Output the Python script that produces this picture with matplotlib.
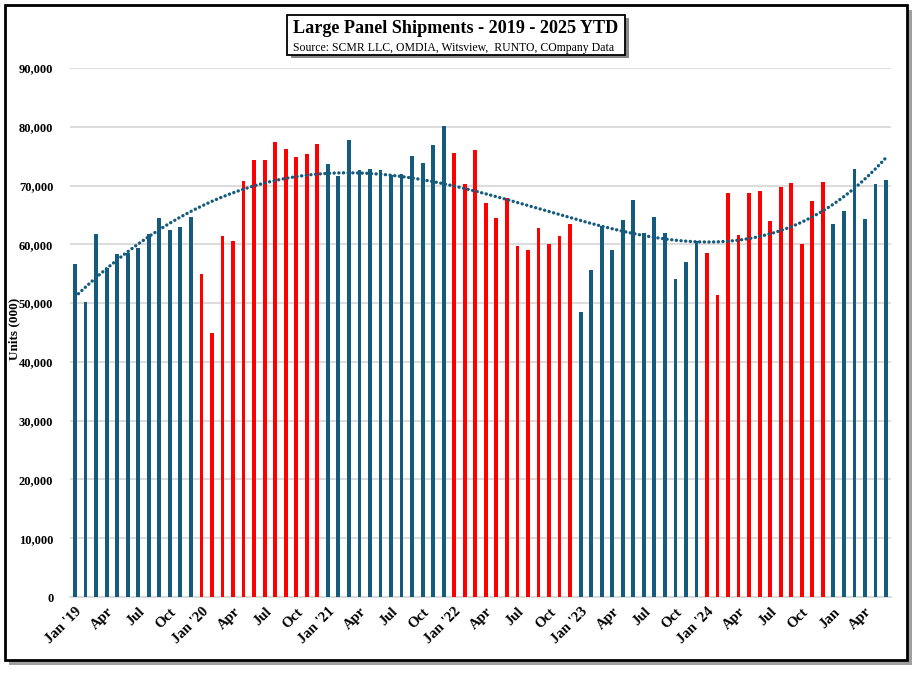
import numpy as np
import matplotlib
matplotlib.use("Agg")
import matplotlib.pyplot as plt
from matplotlib.patches import Rectangle

# monthly shipments, units (000), Jan 2019 - Jun 2025
y2019 = [56600, 50200, 61800, 56000, 58400, 58500, 59400, 61800, 64400, 62500, 62900, 64700]
y2020 = [54900, 45000, 61400, 60600, 70700, 74400, 74300, 77400, 76300, 74900, 75300, 77000]
y2021 = [73600, 71600, 77800, 72700, 72900, 72700, 71800, 71900, 75100, 73900, 76900, 80100]
y2022 = [75500, 70200, 76000, 67100, 64500, 67900, 59700, 59100, 62700, 60000, 61400, 63500]
y2023 = [48500, 55700, 63200, 59000, 64100, 67600, 61900, 64700, 61900, 54100, 57000, 60600]
y2024 = [58600, 51300, 68800, 61600, 68700, 69100, 63900, 69800, 70400, 60000, 67400, 70600]
y2025 = [63500, 65700, 72800, 64300, 70200, 71000]

red_years = {2020, 2022, 2024}
tick_labels = ["Jan '19", "Apr", "Jul", "Oct", "Jan '20", "Apr", "Jul", "Oct",
               "Jan '21", "Apr", "Jul", "Oct", "Jan '22", "Apr", "Jul", "Oct",
               "Jan '23", "Apr", "Jul", "Oct", "Jan '24", "Apr", "Jul", "Oct",
               "Jan", "Apr"]

BLUE = "#145b7d"
RED = "#ff0000"
SERIF = "Liberation Serif"

years = [2019, 2020, 2021, 2022, 2023, 2024, 2025]
series = [y2019, y2020, y2021, y2022, y2023, y2024, y2025]
values = []
colors = []
for yr, vals in zip(years, series):
    values += vals
    colors += [RED if yr in red_years else BLUE] * len(vals)
values = np.array(values)
x = np.arange(len(values))

W, H = 921, 675
fig = plt.figure(figsize=(W / 100, H / 100), dpi=100)
ax = fig.add_axes([70 / W, 1 - 597 / H, (891 - 70) / W, (597 - 68) / H])

ax.bar(x, values, width=0.36, color=colors, zorder=3)

# polynomial trend line (like Excel's)
coef = np.polyfit(x, values, 4)
xt = np.linspace(0, len(values) - 1, 300)
ax.plot(xt, np.polyval(coef, xt), linestyle=(0, (0.05, 1.35)), color=BLUE,
        linewidth=2.4, dash_capstyle="round", zorder=4)

ax.set_ylim(0, 90000)
ax.set_xlim(-0.48, len(values) - 0.53)
ax.set_yticks(np.arange(0, 90001, 10000))
ax.set_yticklabels([f"{v:,}" for v in range(0, 90001, 10000)],
                   fontfamily=SERIF, fontweight="bold", fontsize=9)
ax.set_xticks(x[::3])
ax.set_xticklabels(tick_labels, rotation=45, ha="right", rotation_mode="anchor",
                   fontfamily=SERIF, fontweight="bold", fontsize=10.5)
ax.tick_params(axis="y", length=0, pad=12)
ax.tick_params(axis="x", length=0, pad=6)
ax.grid(axis="y", color="#d9d9d9", linewidth=1.3, zorder=0)
for s in ["top", "right", "left"]:
    ax.spines[s].set_visible(False)
ax.spines["bottom"].set_color("#d9d9d9")
ax.spines["bottom"].set_linewidth(1.3)
fig.text(14 / W, 1 - 329 / H, "Units (000)", rotation=90, ha="center", va="center",
         fontfamily=SERIF, fontweight="bold", fontsize=9.5)

# outer frame with shadow
fig.patches.append(Rectangle((9 / W, 1 - 665 / H), 903 / W, 655 / H, transform=fig.transFigure,
                             facecolor="#a0a0a0", edgecolor="none", zorder=-2))
fig.patches.append(Rectangle((4.5 / W, 1 - 660 / H), 902.5 / W, 655 / H, transform=fig.transFigure,
                             facecolor="white", edgecolor="black", linewidth=2, zorder=-1))

# title box with shadow
fig.patches.append(Rectangle((291 / W, 1 - 58 / H), 338 / W, 40 / H, transform=fig.transFigure,
                             facecolor="#8a8a8a", edgecolor="none", zorder=1))
fig.patches.append(Rectangle((287 / W, 1 - 54.5 / H), 338 / W, 40 / H, transform=fig.transFigure,
                             facecolor="white", edgecolor="black", linewidth=1.3, zorder=2))
fig.text(456 / W, 1 - 28.5 / H, "Large Panel Shipments - 2019 - 2025 YTD", ha="center", va="center",
         fontfamily=SERIF, fontweight="bold", fontsize=13.1, zorder=3)
fig.text(454 / W, 1 - 47.5 / H, "Source: SCMR LLC, OMDIA, Witsview,  RUNTO, COmpany Data",
         ha="center", va="center", fontfamily=SERIF, fontsize=8.5, zorder=3)

fig.savefig("out.png", dpi=100)
